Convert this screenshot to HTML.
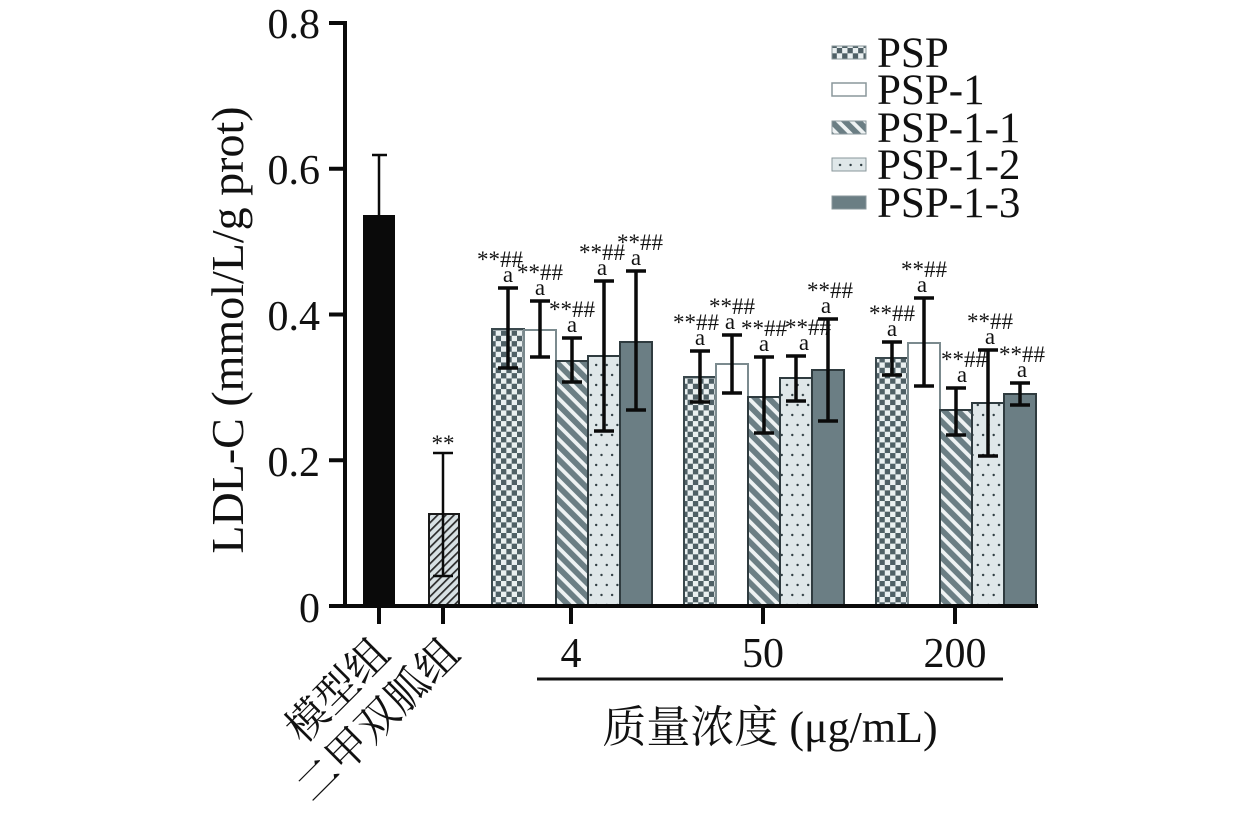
<!DOCTYPE html>
<html>
<head>
<meta charset="utf-8">
<style>
html,body{margin:0;padding:0;background:#fff;}
svg{display:block;}
.serif{font-family:"Liberation Serif","Noto Serif CJK SC",serif;}
</style>
</head>
<body>
<svg width="1260" height="819" viewBox="0 0 1260 819" xmlns="http://www.w3.org/2000/svg">
<defs>
  <pattern id="chk" width="10.66" height="10.66" patternUnits="userSpaceOnUse">
    <rect width="10.66" height="10.66" fill="#eaf0f1"/>
    <rect x="0" y="0" width="5.33" height="5.33" fill="#4f6066"/>
    <rect x="5.33" y="5.33" width="5.33" height="5.33" fill="#4f6066"/>
  </pattern>
  <pattern id="stripe" width="9.6" height="9.6" patternUnits="userSpaceOnUse" patternTransform="rotate(-45)">
    <rect width="9.6" height="9.6" fill="#eef2f3"/>
    <rect x="0" y="0" width="5.8" height="9.6" fill="#6b7e84"/>
  </pattern>
  <pattern id="hatch" width="5.8" height="5.8" patternUnits="userSpaceOnUse" patternTransform="rotate(45)">
    <rect width="5.8" height="5.8" fill="#d8e1e4"/>
    <rect x="0" y="0" width="1.7" height="5.8" fill="#2a2a2a"/>
  </pattern>
  <pattern id="dots" width="10.6" height="20" patternUnits="userSpaceOnUse">
    <rect width="10.6" height="20" fill="#dfe7e9"/>
    <circle cx="2.6" cy="5" r="1.2" fill="#2f3d42"/>
    <circle cx="7.9" cy="15" r="1.2" fill="#2f3d42"/>
  </pattern>
</defs>

<!-- Y axis label -->
<text class="serif" transform="translate(243,330) rotate(-90)" text-anchor="middle" font-size="46" fill="#111">LDL-C (mmol/L/g prot)</text>

<!-- Y tick labels -->
<g class="serif" font-size="42" fill="#111" text-anchor="end">
  <text x="320" y="38">0.8</text>
  <text x="320" y="184">0.6</text>
  <text x="320" y="330">0.4</text>
  <text x="320" y="476">0.2</text>
  <text x="320" y="622">0</text>
</g>

<!-- Bars: model & metformin -->
<rect x="363" y="215" width="32" height="391" fill="#0a0a0a"/>
<rect x="429" y="514" width="30" height="92" fill="url(#hatch)" stroke="#1a1a1a" stroke-width="2"/>

<!-- Group 4 -->
<rect x="492" y="329" width="32" height="277" fill="url(#chk)" stroke="#3a484d" stroke-width="2"/>
<rect x="524" y="330" width="32" height="276" fill="#ffffff" stroke="#7b8a8e" stroke-width="2"/>
<rect x="556" y="361" width="32" height="245" fill="url(#stripe)" stroke="#2f3b3f" stroke-width="2"/>
<rect x="588" y="356" width="32" height="250" fill="url(#dots)" stroke="#2f3b3f" stroke-width="2"/>
<rect x="620" y="342" width="32" height="264" fill="#6b7e84" stroke="#2f3b3f" stroke-width="2"/>

<!-- Group 50 -->
<rect x="684" y="377" width="32" height="229" fill="url(#chk)" stroke="#3a484d" stroke-width="2"/>
<rect x="716" y="364" width="32" height="242" fill="#ffffff" stroke="#7b8a8e" stroke-width="2"/>
<rect x="748" y="397" width="32" height="209" fill="url(#stripe)" stroke="#2f3b3f" stroke-width="2"/>
<rect x="780" y="378" width="32" height="228" fill="url(#dots)" stroke="#2f3b3f" stroke-width="2"/>
<rect x="812" y="370" width="32" height="236" fill="#6b7e84" stroke="#2f3b3f" stroke-width="2"/>

<!-- Group 200 -->
<rect x="876" y="358" width="32" height="248" fill="url(#chk)" stroke="#3a484d" stroke-width="2"/>
<rect x="908" y="343" width="32" height="263" fill="#ffffff" stroke="#7b8a8e" stroke-width="2"/>
<rect x="940" y="410" width="32" height="196" fill="url(#stripe)" stroke="#2f3b3f" stroke-width="2"/>
<rect x="972" y="403" width="32" height="203" fill="url(#dots)" stroke="#2f3b3f" stroke-width="2"/>
<rect x="1004" y="394" width="32" height="212" fill="#6b7e84" stroke="#2f3b3f" stroke-width="2"/>

<!-- Error bars -->
<g stroke="#0a0a0a" fill="none">
  <g stroke-width="2.5">
    <line x1="379" y1="155" x2="379" y2="215"/><line x1="372" y1="155" x2="387" y2="155"/>
    <line x1="443" y1="453" x2="443" y2="576"/><line x1="433" y1="453" x2="453" y2="453"/><line x1="433" y1="576" x2="453" y2="576"/>
  </g>
  <g stroke-width="3.5">
    <line x1="508" y1="288" x2="508" y2="368"/><line x1="498" y1="288" x2="518" y2="288"/><line x1="498" y1="368" x2="518" y2="368"/>
    <line x1="540" y1="301" x2="540" y2="357"/><line x1="530" y1="301" x2="550" y2="301"/><line x1="530" y1="357" x2="550" y2="357"/>
    <line x1="572" y1="338" x2="572" y2="382"/><line x1="562" y1="338" x2="582" y2="338"/><line x1="562" y1="382" x2="582" y2="382"/>
    <line x1="604" y1="281" x2="604" y2="431"/><line x1="594" y1="281" x2="614" y2="281"/><line x1="594" y1="431" x2="614" y2="431"/>
    <line x1="636" y1="271" x2="636" y2="410"/><line x1="626" y1="271" x2="646" y2="271"/><line x1="626" y1="410" x2="646" y2="410"/>
    <line x1="700" y1="351" x2="700" y2="402"/><line x1="690" y1="351" x2="710" y2="351"/><line x1="690" y1="402" x2="710" y2="402"/>
    <line x1="732" y1="335" x2="732" y2="393"/><line x1="722" y1="335" x2="742" y2="335"/><line x1="722" y1="393" x2="742" y2="393"/>
    <line x1="764" y1="357" x2="764" y2="433"/><line x1="754" y1="357" x2="774" y2="357"/><line x1="754" y1="433" x2="774" y2="433"/>
    <line x1="796" y1="356" x2="796" y2="401"/><line x1="786" y1="356" x2="806" y2="356"/><line x1="786" y1="401" x2="806" y2="401"/>
    <line x1="828" y1="319" x2="828" y2="421"/><line x1="818" y1="319" x2="838" y2="319"/><line x1="818" y1="421" x2="838" y2="421"/>
    <line x1="892" y1="342" x2="892" y2="375"/><line x1="882" y1="342" x2="902" y2="342"/><line x1="882" y1="375" x2="902" y2="375"/>
    <line x1="924" y1="298" x2="924" y2="386"/><line x1="914" y1="298" x2="934" y2="298"/><line x1="914" y1="386" x2="934" y2="386"/>
    <line x1="956" y1="388" x2="956" y2="435"/><line x1="946" y1="388" x2="966" y2="388"/><line x1="946" y1="435" x2="966" y2="435"/>
    <line x1="988" y1="350" x2="988" y2="456"/><line x1="978" y1="350" x2="998" y2="350"/><line x1="978" y1="456" x2="998" y2="456"/>
    <line x1="1020" y1="383" x2="1020" y2="405"/><line x1="1010" y1="383" x2="1030" y2="383"/><line x1="1010" y1="405" x2="1030" y2="405"/>
  </g>
</g>

<!-- Annotations -->
<g class="serif" font-size="23" fill="#111" text-anchor="middle">
  <text x="443" y="451">**</text>
  <text x="508" y="282">a</text><text x="500" y="267">**##</text>
  <text x="540" y="295">a</text><text x="540" y="280">**##</text>
  <text x="572" y="332">a</text><text x="572" y="317">**##</text>
  <text x="602" y="275">a</text><text x="602" y="260">**##</text>
  <text x="636" y="265">a</text><text x="640" y="250">**##</text>
  <text x="700" y="345">a</text><text x="696" y="330">**##</text>
  <text x="730" y="329">a</text><text x="732" y="314">**##</text>
  <text x="764" y="351">a</text><text x="764" y="336">**##</text>
  <text x="804" y="350">a</text><text x="808" y="335">**##</text>
  <text x="826" y="313">a</text><text x="830" y="298">**##</text>
  <text x="892" y="336">a</text><text x="892" y="321">**##</text>
  <text x="922" y="292">a</text><text x="924" y="277">**##</text>
  <text x="962" y="382">a</text><text x="964" y="367">**##</text>
  <text x="990" y="344">a</text><text x="990" y="329">**##</text>
  <text x="1022" y="377">a</text><text x="1022" y="362">**##</text>
</g>

<!-- Axes -->
<g stroke="#0a0a0a" stroke-width="4" fill="none">
  <line x1="345" y1="21" x2="345" y2="608"/>
  <line x1="343" y1="606" x2="1038" y2="606"/>
  <line x1="329" y1="23" x2="345" y2="23"/>
  <line x1="329" y1="168.75" x2="345" y2="168.75"/>
  <line x1="329" y1="314.5" x2="345" y2="314.5"/>
  <line x1="329" y1="460.25" x2="345" y2="460.25"/>
  <line x1="329" y1="606" x2="345" y2="606"/>
  <line x1="379" y1="606" x2="379" y2="624"/>
  <line x1="443" y1="606" x2="443" y2="624"/>
  <line x1="571" y1="606" x2="571" y2="624"/>
  <line x1="763" y1="606" x2="763" y2="624"/>
  <line x1="955" y1="606" x2="955" y2="624"/>
</g>

<!-- X labels -->
<g class="serif" font-size="42" fill="#111" text-anchor="middle">
  <text x="571" y="667">4</text>
  <text x="763" y="667">50</text>
  <text x="955" y="667">200</text>
</g>
<line x1="537" y1="679" x2="1003" y2="679" stroke="#111" stroke-width="3"/>
<text class="serif" x="770" y="742" font-size="44" fill="#111" text-anchor="middle">质量浓度 (μg/mL)</text>

<!-- Rotated category labels -->
<g class="serif" font-size="42" fill="#111" text-anchor="end">
  <text transform="translate(392,656) rotate(-45)">模型组</text>
  <text transform="translate(462,656) rotate(-45)">二甲双胍组</text>
</g>

<!-- Legend -->
<g>
  <rect x="832" y="46" width="34" height="13" fill="url(#chk)" stroke="#8a979b" stroke-width="1"/>
  <rect x="832" y="83" width="34" height="13" fill="#ffffff" stroke="#8a979b" stroke-width="1.5"/>
  <rect x="832" y="121" width="34" height="13" fill="url(#stripe)" stroke="#8a979b" stroke-width="1"/>
  <rect x="832" y="158" width="34" height="13" fill="url(#dots)" stroke="#8a979b" stroke-width="1"/>
  <rect x="832" y="196" width="34" height="13" fill="#6b7e84" stroke="#8a979b" stroke-width="1"/>
</g>
<g class="serif" font-size="43" fill="#111">
  <text x="877" y="67">PSP</text>
  <text x="877" y="104">PSP-1</text>
  <text x="877" y="142">PSP-1-1</text>
  <text x="877" y="179">PSP-1-2</text>
  <text x="877" y="217">PSP-1-3</text>
</g>
</svg>
</body>
</html>
